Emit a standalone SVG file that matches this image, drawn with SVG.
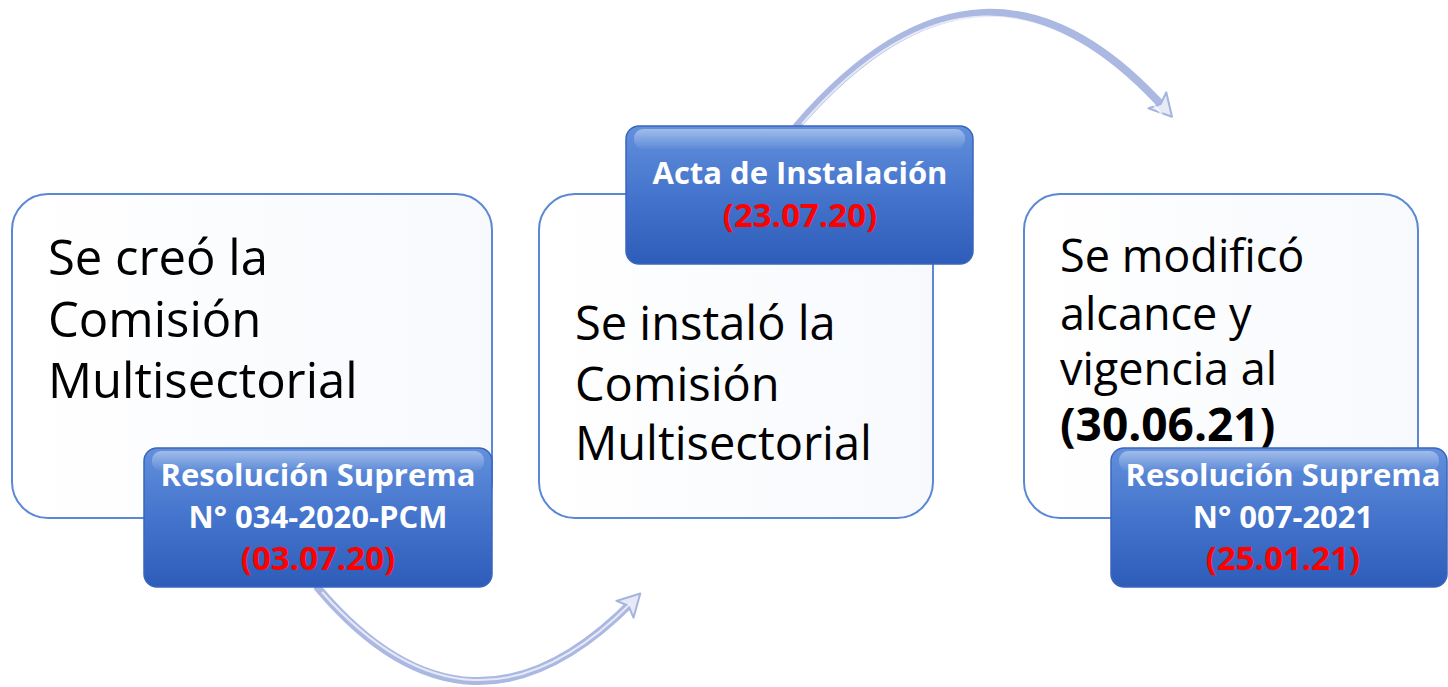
<svg xmlns="http://www.w3.org/2000/svg" width="1448" height="687" viewBox="0 0 1448 687">
<defs>
<linearGradient id="gBlue" x1="0" y1="0" x2="0" y2="1">
<stop offset="0" stop-color="#6290DC"/>
<stop offset="0.5" stop-color="#4474CC"/>
<stop offset="1" stop-color="#2D5DB9"/>
</linearGradient>
<linearGradient id="gShine" x1="0" y1="0" x2="0" y2="1">
<stop offset="0" stop-color="#ffffff" stop-opacity="0.4"/>
<stop offset="1" stop-color="#ffffff" stop-opacity="0.03"/>
</linearGradient>
<linearGradient id="gBox" x1="0" y1="0" x2="1" y2="0">
<stop offset="0" stop-color="#ffffff"/>
<stop offset="1" stop-color="#f7f9fd"/>
</linearGradient>
<marker id="arr" markerUnits="userSpaceOnUse" markerWidth="40" markerHeight="40" viewBox="-20 -20 40 40" refX="0" refY="0" orient="auto">
<path d="M-13,-12 L9,0 L-13,12 L-8,0 Z" fill="#E6EAF7" stroke="#A5B3DF" stroke-width="2" stroke-linejoin="round"/>
</marker>
</defs>
<style>
.box{fill:url(#gBox);stroke:#5A88D4;stroke-width:2}
.lab{fill:url(#gBlue);stroke:#3A66BE;stroke-width:1.5}
.shine{fill:url(#gShine)}
.big{font-family:"Open Sans","Liberation Sans",sans-serif;fill:#000}
.bigb{font-family:"Open Sans","Liberation Sans",sans-serif;font-size:46px;font-weight:bold;fill:#000}
.lt{font-family:"Open Sans","Liberation Sans",sans-serif;font-size:31px;font-weight:bold;fill:#fff;text-anchor:middle}
.red{fill:#FF0000;font-size:33px}
.arc{fill:none;stroke:#ABB8E2;stroke-width:8;stroke-linecap:round}
.arcHi{fill:none;stroke:#ffffff;stroke-width:2;stroke-opacity:0.7}
</style>

<g id="node-creo">
<rect class="box" x="12" y="194" width="480" height="324" rx="36"/>
<text class="big" font-size="49" x="48" y="275">Se creó la</text>
<text class="big" font-size="49" x="48" y="337">Comisión</text>
<text class="big" font-size="49" x="48" y="398">Multisectorial</text>
</g>
<g id="node-instalo">
<rect class="box" x="539" y="194" width="394" height="324" rx="36"/>
<text class="big" font-size="47" x="575" y="340">Se instaló la</text>
<text class="big" font-size="47" x="575" y="401">Comisión</text>
<text class="big" font-size="47" x="575" y="460">Multisectorial</text>
</g>
<g id="node-modifico">
<rect class="box" x="1024" y="194" width="394" height="324" rx="36"/>
<text class="big" font-size="45" x="1060" y="272">Se modificó</text>
<text class="big" font-size="45" x="1060" y="330">alcance y</text>
<text class="big" font-size="45" x="1060" y="385">vigencia al</text>
<text class="bigb" x="1060" y="441">(30.06.21)</text>
</g>

<g id="connectors">
<path class="arc" d="M318,588 Q470,768 634,600" marker-end="url(#arr)"/>
<path class="arcHi" d="M322,592 Q472,762 630,604"/>
<path class="arc" d="M797,126 Q985,-92 1166,110" marker-end="url(#arr)"/>
<path class="arcHi" d="M802,124 Q985,-86 1162,114"/>
</g>

<g id="label-rs034">
<rect class="lab" x="144" y="448" width="348" height="139" rx="13"/>
<rect class="shine" x="152" y="451" width="332" height="20" rx="9"/>
<text class="lt" x="318" y="486">Resolución Suprema</text>
<text class="lt" x="318" y="528">N° 034-2020-PCM</text>
<text class="lt red" x="318" y="570">(03.07.20)</text>
</g>
<g id="label-acta">
<rect class="lab" x="626" y="126" width="347" height="138" rx="13"/>
<rect class="shine" x="634" y="129" width="331" height="20" rx="9"/>
<text class="lt" x="800" y="184">Acta de Instalación</text>
<text class="lt red" x="800" y="227">(23.07.20)</text>
</g>
<g id="label-rs007">
<rect class="lab" x="1111" y="448" width="336" height="139" rx="13"/>
<rect class="shine" x="1119" y="451" width="320" height="20" rx="9"/>
<text class="lt" x="1283" y="486">Resolución Suprema</text>
<text class="lt" x="1283" y="528">N° 007-2021</text>
<text class="lt red" x="1283" y="570">(25.01.21)</text>
</g>
</svg>
